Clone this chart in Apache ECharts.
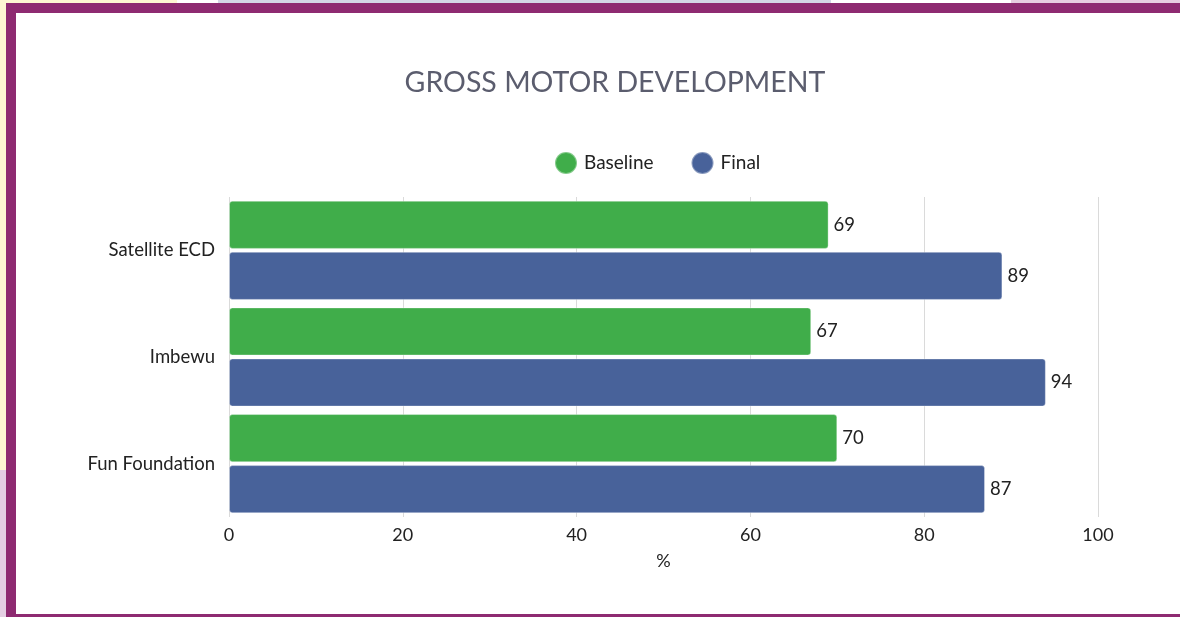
<!DOCTYPE html>
<html>
<head>
<meta charset="utf-8">
<title>Gross Motor Development</title>
<script src="https://cdn.jsdelivr.net/npm/echarts@6/dist/echarts.min.js"></script>
<style>
  html, body { margin: 0; padding: 0; width: 1180px; height: 617px; overflow: hidden; background: #ffffff; }
  .deco { position: absolute; }
  .frame {
    position: absolute; left: 6px; top: 3px; width: 1184px; height: 601px;
    background: #ffffff;
    border-left: 10px solid #8e2a71; border-top: 10px solid #8e2a71; border-bottom: 3px solid #8e2a71;
  }
  #main { position: absolute; left: 0; top: 0; width: 1180px; height: 617px; }
</style>
</head>
<body>
<div class="deco" style="left:0;top:0;width:177px;height:470px;background:#fdf6d2"></div>
<div class="deco" style="left:218px;top:0;width:613px;height:4px;background:#d3d6e6"></div>
<div class="deco" style="left:1011px;top:0;width:169px;height:4px;background:#e6cde0"></div>
<div class="deco" style="left:0;top:470px;width:8px;height:147px;background:#e4cfe3"></div>
<div class="frame"></div>
<div id="main"></div>
<script>
// data
const categories = ['Satellite ECD', 'Imbewu', 'Fun Foundation'];
const baseline = [69, 67, 70];
const finalVals = [89, 94, 87];
const xTicks = [0, 20, 40, 60, 80, 100];

const FONT = 'Lato, "Open Sans", sans-serif';

const chart = echarts.init(document.getElementById('main'));
const option = {
  backgroundColor: 'transparent',
  textStyle: { fontFamily: FONT },
  title: {
    text: 'GROSS MOTOR DEVELOPMENT',
    left: 610,
    textAlign: 'center',
    top: 63,
    textStyle: { fontFamily: FONT, fontSize: 28.5, fontWeight: 'normal', color: '#5b5d6e' }
  },
  legend: {
    data: ['Baseline', 'Final'],
    left: 549,
    top: 146,
    icon: 'circle',
    itemWidth: 22,
    itemHeight: 22,
    itemGap: 37,
    textStyle: { fontFamily: FONT, fontSize: 19, color: '#222222', padding: [0, 0, 0, 2] }
  },
  grid: { left: 229, right: 82, top: 197, bottom: 100, containLabel: false },
  xAxis: {
    type: 'value',
    min: xTicks[0],
    max: xTicks[xTicks.length - 1],
    interval: xTicks[1] - xTicks[0],
    name: '%',
    nameLocation: 'middle',
    nameGap: 35,
    nameTextStyle: { fontFamily: FONT, fontSize: 18, color: '#222222' },
    axisLine: { show: false },
    axisTick: { show: false },
    axisLabel: { fontFamily: FONT, fontSize: 18, color: '#222222', margin: 9 },
    splitLine: { show: true, lineStyle: { color: '#dadada', width: 1 } }
  },
  yAxis: {
    type: 'category',
    data: categories,
    inverse: true,
    axisLine: { show: false },
    axisTick: { show: false },
    axisLabel: { fontFamily: FONT, fontSize: 18.5, color: '#222222', margin: 14 }
  },
  series: [
    {
      name: 'Baseline',
      type: 'bar',
      data: baseline,
      barCategoryGap: '7%',
      barGap: '6%',
      itemStyle: { color: '#40ad4a', borderRadius: 3, borderColor: 'rgba(255,255,255,0.35)', borderWidth: 1 },
      label: { show: true, position: 'right', distance: 5, fontFamily: FONT, fontSize: 18.5, color: '#222222' }
    },
    {
      name: 'Final',
      type: 'bar',
      data: finalVals,
      itemStyle: { color: '#48629a', borderRadius: 3, borderColor: 'rgba(255,255,255,0.35)', borderWidth: 1 },
      label: { show: true, position: 'right', distance: 5, fontFamily: FONT, fontSize: 18.5, color: '#222222' }
    }
  ]
};
chart.setOption(option);
</script>
</body>
</html>
